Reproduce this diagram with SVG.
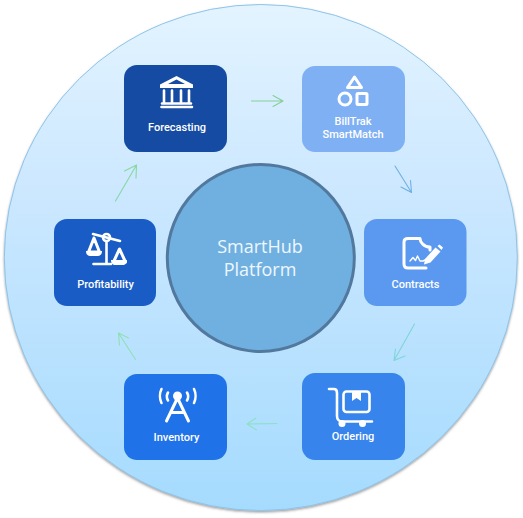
<svg xmlns="http://www.w3.org/2000/svg" width="523" height="518" viewBox="0 0 523 518">
<defs>
<linearGradient id="bg" x1="0" y1="0" x2="0" y2="1"><stop offset="0" stop-color="#e3f4ff"/><stop offset="0.35" stop-color="#cde8ff"/><stop offset="1" stop-color="#a5dbfe"/></linearGradient>
<filter id="sh" x="-5%" y="-5%" width="110%" height="110%"><feDropShadow dx="0" dy="1.500" stdDeviation="1" flood-color="#555" flood-opacity="0.55"/></filter>
</defs>
<style>
.card{stroke:none}
.lbl{font-family:"Roboto","Liberation Sans",sans-serif;font-size:11px;font-weight:500;fill:#fff;text-anchor:middle}
.ctr{font-family:"Open Sans","Liberation Sans",sans-serif;font-size:18px;fill:#eef7fd;text-anchor:middle}
.ic{fill:none;stroke:#fff;stroke-width:2.6;stroke-linecap:round;stroke-linejoin:round}
.thick{stroke-width:3}
.thin{stroke-width:1.400}
.icf{fill:#fff;stroke:none}
.arr{fill:none;stroke-width:1.100;stroke-linecap:round;stroke-linejoin:round}
</style>
<ellipse id="backdrop" cx="260.800" cy="257.500" rx="256.500" ry="253" fill="url(#bg)" stroke="#8fc4e8" stroke-width="1" filter="url(#sh)"/>
<g id="connectors">
<path class="arr" stroke="#86cf96" d="M251.500 101H283M273 95.500L283 101L273 106.500"/>
<path class="arr" stroke="#6fb0e4" d="M395 166L411.500 192.500M410.500 180.500L411.500 192.500L401 187"/>
<path class="arr" stroke="#80d4d8" d="M414.500 324L394 360.500M405 356L394 360.500L395.500 349"/>
<path class="arr" stroke="#8de0c8" d="M277 423.500L247 424M256 418L247 424L256.500 430"/>
<path class="arr" stroke="#8de0b4" d="M135.500 359.500L118.500 333M119.500 345L118.500 333L128.500 338"/>
<path class="arr" stroke="#86d8a0" d="M115.500 201L136.500 165M124.500 171L136.500 165L136 178"/>
</g>
<g id="center">
<circle cx="260.800" cy="258" r="93.500" fill="#70b0e1" stroke="#52799d" stroke-width="3"/>
<text class="ctr" x="260" y="253">SmartHub</text>
<text class="ctr" x="260" y="276">Platform</text>
</g>
<g id="forecasting">
<rect class="card" x="124" y="65" width="103" height="87" rx="13" fill="#154ba2"/>
<path class="icf" d="M176.500 76L193 84.500V88H160V84.500ZM176.500 79.500L168 84H185Z"/>
<path class="ic" d="M164 90.500V103M172 90.500V103M181 90.500V103M189 90.500V103"/>
<path class="ic" d="M162 103.500H191M161.500 107H192"/>
<text class="lbl" x="177" y="131">Forecasting</text>
</g>
<g id="billtrak">
<rect class="card" x="302" y="66" width="103" height="86" rx="13" fill="#7fb0f3"/>
<path class="ic thick" d="M354.500 77L361.500 87.500H347.500Z"/>
<circle class="ic thick" cx="345" cy="99" r="6"/>
<rect class="ic thick" x="357" y="93.500" width="10" height="11" rx="1"/>
<text class="lbl" x="353" y="125">BillTrak</text>
<text class="lbl" x="353" y="138">SmartMatch</text>
</g>
<g id="contracts">
<rect class="card" x="364" y="219" width="102.500" height="87" rx="13" fill="#5b99f0"/>
<path class="ic thick" d="M420 238.500C420 242 424 247 430 247V250M420 238.500H408C405 238.500 404 240 404 242V264C404 266.500 405 268 408 268H426"/>
<path class="ic thin" d="M410 261L413 257.500L415.500 260.500L417.500 256L420 261H423L427 259"/>
<path class="icf" d="M425 259L435.500 247.500L440.500 251.500L430.500 262.500L424 264.500ZM437.500 246L439.500 244.500L443 247.500L441.500 250Z"/>
<text class="lbl" x="415.500" y="288">Contracts</text>
</g>
<g id="ordering">
<rect class="card" x="302" y="373" width="103" height="87" rx="13" fill="#3684ec"/>
<path class="ic" d="M329 389H334C336 389 337 391 337 393V416C337 419 339 421.500 342 421.500H372"/>
<rect class="ic" x="343.500" y="391.500" width="26" height="20.500" rx="3"/>
<path class="icf" d="M352 391H361V401L356.500 398L352 401Z"/>
<circle class="icf" cx="342" cy="423.500" r="3.500"/>
<circle class="icf" cx="362.500" cy="423.500" r="3.500"/>
<text class="lbl" x="353" y="440">Ordering</text>
</g>
<g id="inventory">
<rect class="card" x="124" y="374" width="103" height="86" rx="13" fill="#1f72e8"/>
<circle class="icf" cx="177.500" cy="396" r="4.500"/>
<path class="ic thick" d="M177 399L166.500 421M178 399L188.500 421M170.500 412.500H184.500"/>
<path class="ic" d="M161.500 389C159.500 393 159.500 399 161.500 403M194 389C196 393 196 399 194 403M168 392.500C166.500 395 166.500 398 168 400.500M187 392.500C188.500 395 188.500 398 187 400.500"/>
<text class="lbl" x="176.500" y="441">Inventory</text>
</g>
<g id="profitability">
<rect class="card" x="54" y="219" width="102" height="87" rx="13" fill="#195cc6"/>
<path class="ic" d="M93 234L120 241"/>
<circle class="ic" cx="106.500" cy="237.500" r="3.500" fill="#195cc6"/>
<path class="ic" d="M106.500 242V263.500M93.500 264H111"/>
<path class="ic thick" d="M94 238L88.500 252H99.500ZM119.500 249L113.500 262H125.500Z"/>
<path class="icf" d="M86 251H102C102 257 97 256 94 256C91 256 86 257 86 251ZM111 260H127C127 266 122 265 119 265C116 265 111 266 111 260Z"/>
<text class="lbl" x="105.500" y="288">Profitability</text>
</g>
</svg>
